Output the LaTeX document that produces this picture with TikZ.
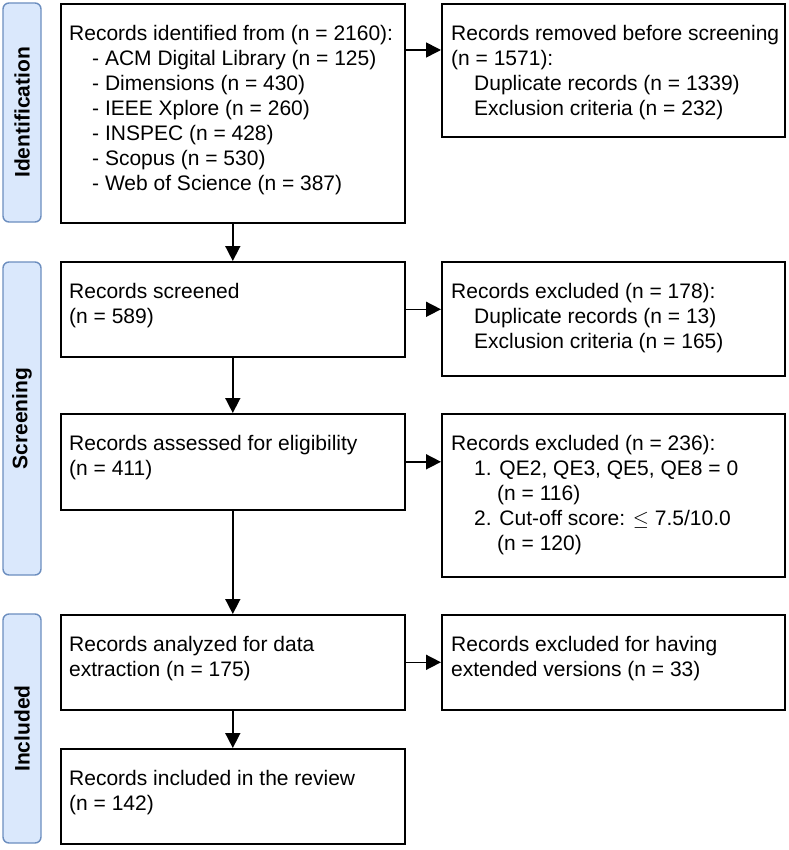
\documentclass[tikz,border=0pt]{standalone}
\usepackage{fontspec}
\setmainfont{Liberation Sans}
\usetikzlibrary{arrows.meta,calc}
\definecolor{stageblue}{RGB}{108,142,191}
\definecolor{stagefill}{RGB}{218,232,252}
\tikzset{
  stage-node/.style={draw=stageblue, line width=1.4pt, fill=stagefill, rounded corners=6pt,
    minimum height=38pt, inner sep=0pt, font=\fontsize{21}{25}\selectfont\bfseries, rotate=90},
  record-box/.style={draw=black, line width=1.6pt, inner sep=0pt, anchor=north west},
  record-text/.style={anchor=north west, inner sep=0pt, align=left},
  flow-arrow/.style={-{Triangle[length=15pt,width=15pt]}, line width=1.6pt, draw=black}
}

\begin{document}
\begin{tikzpicture}[x=1pt, y=-1pt, font=\fontsize{21}{25}\selectfont]
\useasboundingbox (0,0) rectangle (788,850);
% phase labels on the left
\foreach \ya/\yb/\nm/\lbl in {3/222/identification/Identification,
  262/575/screening/Screening, 614/843/included/Included}{
  \node[stage-node, minimum width={\yb-\ya}] (\nm) at (22,{(\ya+\yb)/2}) {\lbl};
}
% main column
\node[record-box, minimum width=344pt, minimum height=219pt] (identified) at (60,3) {};
\node[record-box, minimum width=344pt, minimum height=95pt] (screened) at (60,261) {};
\node[record-box, minimum width=344pt, minimum height=96pt] (assessed) at (60,413) {};
\node[record-box, minimum width=344pt, minimum height=95pt] (analyzed) at (60,614) {};
\node[record-box, minimum width=344pt, minimum height=95pt] (reviewed) at (60,748) {};
% exclusion column
\node[record-box, minimum width=343pt, minimum height=133pt] (removed) at (441,3) {};
\node[record-box, minimum width=343pt, minimum height=114pt] (excl-screen) at (441,261) {};
\node[record-box, minimum width=343pt, minimum height=163pt] (excl-elig) at (441,413) {};
\node[record-box, minimum width=343pt, minimum height=95pt] (excl-ext) at (441,614) {};

% box texts
\node[record-text] (identified-t) at ($(identified.north west)+(9,22)$) {Records identified from (n = 2160):\\
  \hspace*{23pt}- ACM Digital Library (n = 125)\\
  \hspace*{23pt}- Dimensions (n = 430)\\
  \hspace*{23pt}- IEEE Xplore (n = 260)\\
  \hspace*{23pt}- INSPEC (n = 428)\\
  \hspace*{23pt}- Scopus (n = 530)\\
  \hspace*{23pt}- Web of Science (n = 387)};
\node[record-text] (screened-t) at ($(screened.north west)+(9,22)$) {Records screened\\(n = 589)};
\node[record-text] (assessed-t) at ($(assessed.north west)+(9,22)$) {Records assessed for eligibility\\(n = 411)};
\node[record-text] (analyzed-t) at ($(analyzed.north west)+(9,22)$) {Records analyzed for data\\extraction (n = 175)};
\node[record-text] (reviewed-t) at ($(reviewed.north west)+(9,22)$) {Records included in the review\\(n = 142)};
\node[record-text] (removed-t) at ($(removed.north west)+(10,22)$) {Records removed before screening\\(n = 1571):\\
  \hspace*{23pt}Duplicate records (n = 1339)\\
  \hspace*{23pt}Exclusion criteria (n = 232)};
\node[record-text] (excl-screen-t) at ($(excl-screen.north west)+(10,22)$) {Records excluded (n = 178):\\
  \hspace*{23pt}Duplicate records (n = 13)\\
  \hspace*{23pt}Exclusion criteria (n = 165)};
\node[record-text] (excl-elig-t) at ($(excl-elig.north west)+(10,22)$) {Records excluded (n = 236):\\
  \hspace*{23pt}1. QE2, QE3, QE5, QE8 = 0\\
  \hspace*{46pt}(n = 116)\\
  \hspace*{23pt}2. Cut-off score: $\leq$ 7.5/10.0\\
  \hspace*{46pt}(n = 120)};
\node[record-text] (excl-ext-t) at ($(excl-ext.north west)+(10,22)$) {Records excluded for having\\extended versions (n = 33)};

% arrows
\foreach \a/\b in {identified/screened, screened/assessed, assessed/analyzed, analyzed/reviewed}
  \draw[flow-arrow] (\a) -- (\b);
\coordinate (id-out) at ($(identified.north east)+(0,47)$);
\draw[flow-arrow] (id-out) -- (id-out -| removed.west);
\draw[flow-arrow] (screened.east) -- (screened.east -| excl-screen.west);
\draw[flow-arrow] (assessed.east) -- (assessed.east -| excl-elig.west);
\draw[flow-arrow] (analyzed.east) -- (analyzed.east -| excl-ext.west);
\end{tikzpicture}
\end{document}
